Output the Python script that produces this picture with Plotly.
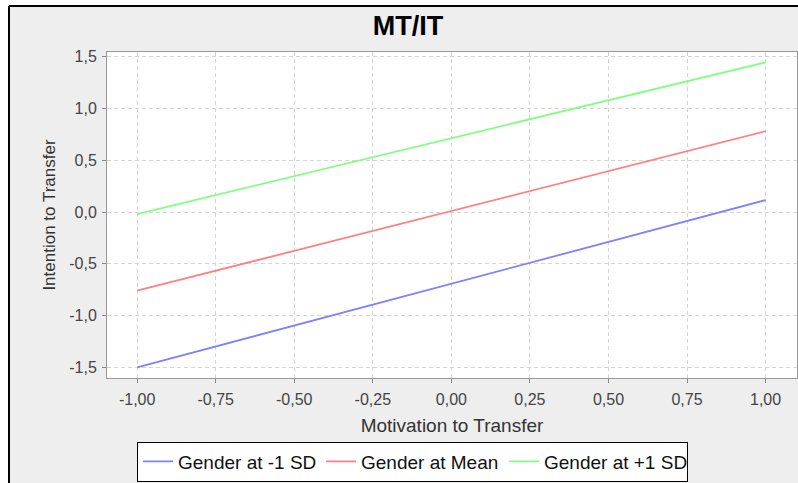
import plotly.graph_objects as go

# ---- data ----
x_values = [-1.0, 1.0]
series_names = ["Gender at -1 SD", "Gender at Mean", "Gender at +1 SD"]
low_sd = [-1.50, 0.115]
mean_vals = [-0.76, 0.78]
high_sd = [-0.02, 1.445]
series_values = [low_sd, mean_vals, high_sd]
series_colors = ["#8080FF", "#FF8080", "#80FF80"]
x_ticks = [-1.0, -0.75, -0.5, -0.25, 0.0, 0.25, 0.5, 0.75, 1.0]
y_ticks = [-1.5, -1.0, -0.5, 0.0, 0.5, 1.0, 1.5]
x_ticktext = [f"{v:.2f}".replace(".", ",") for v in x_ticks]
y_ticktext = [f"{v:.1f}".replace(".", ",") for v in y_ticks]

FONT = "Liberation Sans, Arial, sans-serif"

fig = go.Figure()
for name, vals, col in zip(series_names, series_values, series_colors):
    fig.add_trace(go.Scatter(x=x_values, y=vals, mode="lines", name=name,
                             line=dict(color=col, width=1.8)))

W, H = 798, 483
L, R, T, B = 107, 1, 52, 105
pw, ph = W - L - R, H - T - B


def px2x(px):
    return (px - L) / pw


def px2y(py):
    return (H - B - py) / ph


axis_common = dict(
    showline=True, linecolor="#999999", linewidth=1, mirror=True,
    showgrid=True, gridcolor="#D4D4D4", gridwidth=1, griddash="4px,3px",
    ticks="outside", ticklen=4, tickcolor="#888888", tickwidth=1,
    zeroline=False,
    tickfont=dict(family=FONT, size=16, color="#444444"),
)

fig.update_layout(
    width=W, height=H,
    margin=dict(l=L, r=R, t=T, b=B),
    paper_bgcolor="#EEEEEE",
    plot_bgcolor="#FFFFFF",
    title=dict(text="<b>MT/IT</b>", x=408 / W, xanchor="center",
               y=1 - 25.5 / H, yanchor="middle",
               font=dict(family=FONT, size=27, color="#000000")),
    xaxis=dict(range=[-1.096, 1.1], tickvals=x_ticks, ticktext=x_ticktext,
               ticklabelstandoff=3,
               title=dict(text="Motivation to Transfer", standoff=11,
                          font=dict(family=FONT, size=19, color="#333333")),
               **axis_common),
    yaxis=dict(range=[-1.603, 1.545], tickvals=y_ticks, ticktext=y_ticktext,
               ticklabelstandoff=2,
               title=dict(text="Intention to Transfer", standoff=9,
                          font=dict(family=FONT, size=17, color="#333333")),
               **axis_common),
    legend=dict(orientation="h", xref="container", yref="container",
                x=137 / W, xanchor="left",
                y=1 - 481.5 / H, yanchor="bottom", entrywidth=138,
                bgcolor="#FFFFFF", bordercolor="#000000", borderwidth=1,
                font=dict(family=FONT, size=19, color="#111111")),
    showlegend=True,
)

# outer frame: white strip outside, black edge lines
fig.add_shape(type="rect", xref="paper", yref="paper", layer="above",
              x0=-0.3, x1=px2x(8), y0=-0.5, y1=1.4,
              fillcolor="#FFFFFF", line=dict(width=0))
fig.add_shape(type="rect", xref="paper", yref="paper", layer="above",
              x0=-0.3, x1=1.2, y0=px2y(5), y1=1.4,
              fillcolor="#FFFFFF", line=dict(width=0))
fig.add_shape(type="line", xref="paper", yref="paper", layer="above",
              x0=px2x(9), x1=px2x(9), y0=-0.5, y1=px2y(6),
              line=dict(color="#000000", width=2))
fig.add_shape(type="line", xref="paper", yref="paper", layer="above",
              x0=px2x(9), x1=1.2, y0=px2y(6), y1=px2y(6),
              line=dict(color="#000000", width=2))

fig.write_html("out.html", config={"displayModeBar": False},
               post_script="document.body.style.margin='0px';")
